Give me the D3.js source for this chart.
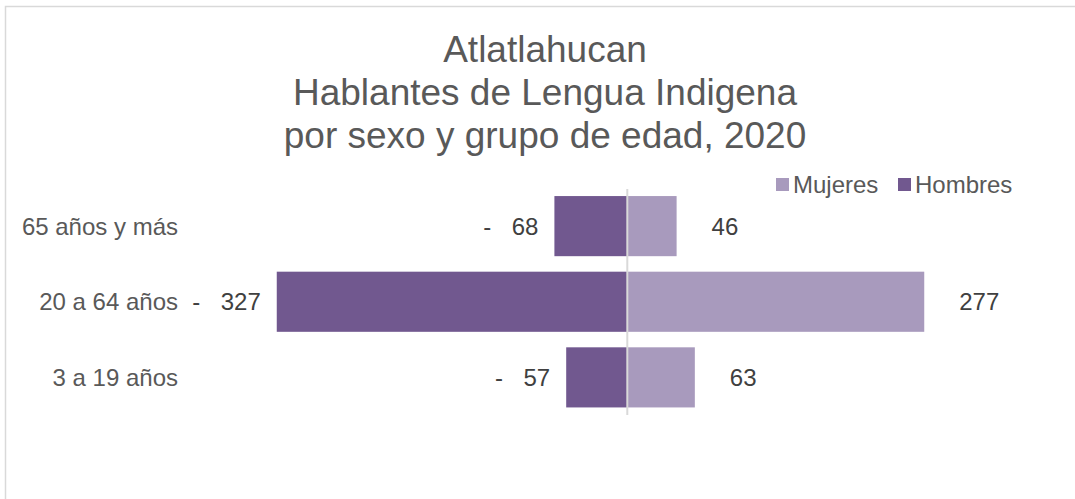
<!DOCTYPE html>
<html>
<head>
<meta charset="utf-8">
<script src="https://cdn.jsdelivr.net/npm/d3@7"></script>
<style>
  html, body { margin: 0; padding: 0; background: #fff; }
  svg { display: block; font-family: "Liberation Sans", Arial, sans-serif; }
</style>
</head>
<body>
<svg id="chart" width="1075" height="499"></svg>
<script>
const titleLines = ["Atlatlahucan", "Hablantes de Lengua Indigena", "por sexo y grupo de edad, 2020"];
const categories = ["65 años y más", "20 a 64 años", "3 a 19 años"];
const hombres = [68, 327, 57];
const mujeres = [46, 277, 63];
const seriesNames = ["Mujeres", "Hombres"];
const colors = { Mujeres: "#A89ABD", Hombres: "#71588F" };

const svg = d3.select("#chart");

// frame
svg.append("rect")
  .attr("x", 5.5).attr("y", 6.5)
  .attr("width", 1100).attr("height", 600)
  .attr("fill", "none").attr("stroke", "#d9d9d9").attr("stroke-width", 1.5);

// title
svg.append("g").selectAll("text").data(titleLines).join("text")
  .attr("x", 545)
  .attr("y", (d, i) => 62 + i * 43)
  .attr("text-anchor", "middle")
  .attr("font-size", 37)
  .attr("fill", "#595959")
  .text(d => d);

const x = d3.scaleLinear().domain([-350, 350]).range([627.3 - 375.2, 627.3 + 375.2]);
const y = d3.scaleBand().domain(categories).range([188.5, 415]).paddingInner(0.205).paddingOuter(0.1);

// bars
svg.append("g").selectAll("rect").data(categories).join("rect")
  .attr("x", (d, i) => x(-hombres[i]))
  .attr("y", d => y(d))
  .attr("width", (d, i) => x(0) - x(-hombres[i]))
  .attr("height", y.bandwidth())
  .attr("fill", colors.Hombres);

svg.append("g").selectAll("rect").data(categories).join("rect")
  .attr("x", x(0))
  .attr("y", d => y(d))
  .attr("width", (d, i) => x(mujeres[i]) - x(0))
  .attr("height", y.bandwidth())
  .attr("fill", colors.Mujeres);

// central axis line
svg.append("line")
  .attr("x1", x(0)).attr("x2", x(0))
  .attr("y1", 189).attr("y2", 415)
  .attr("stroke", "#d9d9d9").attr("stroke-width", 2);

// category labels
svg.append("g").selectAll("text").data(categories).join("text")
  .attr("x", 178)
  .attr("y", d => y(d) + y.bandwidth() / 2)
  .attr("dy", "0.35em")
  .attr("text-anchor", "end")
  .attr("font-size", 24)
  .attr("fill", "#595959")
  .text(d => d);

// hombres value labels
const hl = svg.append("g");
categories.forEach((c, i) => {
  const cy = y(c) + y.bandwidth() / 2;
  const numRight = x(-hombres[i]) - 16;
  const t = hl.append("text")
    .attr("x", numRight).attr("y", cy).attr("dy", "0.35em")
    .attr("text-anchor", "end").attr("font-size", 24).attr("fill", "#404040")
    .text(hombres[i]);
  const w = t.node().getComputedTextLength();
  hl.append("text")
    .attr("x", numRight - w - 24.5).attr("y", cy).attr("dy", "0.35em")
    .attr("text-anchor", "middle").attr("font-size", 24).attr("fill", "#404040")
    .text("-");
});

// mujeres value labels
svg.append("g").selectAll("text").data(categories).join("text")
  .attr("x", (d, i) => x(mujeres[i]) + 35)
  .attr("y", d => y(d) + y.bandwidth() / 2)
  .attr("dy", "0.35em")
  .attr("font-size", 24)
  .attr("fill", "#404040")
  .text((d, i) => mujeres[i]);

// legend
const legX = [776, 898];
const leg = svg.append("g").selectAll("g").data(seriesNames).join("g")
  .attr("transform", (d, i) => `translate(${legX[i]},178)`);
leg.append("rect").attr("width", 13).attr("height", 13).attr("fill", d => colors[d]);
leg.append("text").attr("x", 17).attr("y", 6.5).attr("dy", "0.35em")
  .attr("font-size", 24).attr("fill", "#595959").text(d => d);
</script>
</body>
</html>
